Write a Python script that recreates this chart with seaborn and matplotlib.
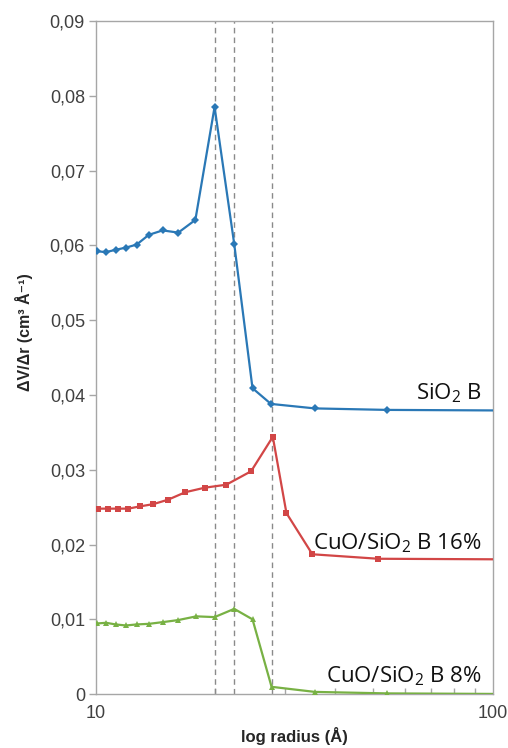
import numpy as np
import pandas as pd
import matplotlib
matplotlib.use("Agg")
import matplotlib.pyplot as plt
import matplotlib.ticker as mticker
import seaborn as sns

# ---- data ----
radius_a = [10.08, 10.6, 11.2, 11.9, 12.66, 13.58, 14.72, 16.12, 17.8, 19.9, 22.3, 24.8, 27.6, 35.6, 54.1, 130.0]
sio2_b = [0.0592, 0.0591, 0.0594, 0.0597, 0.0601, 0.0614, 0.0620, 0.0617, 0.0634, 0.0785, 0.0602, 0.0409, 0.0388, 0.0382, 0.0380, 0.0379]

radius_b = [10.13, 10.74, 11.34, 12.06, 12.9, 13.94, 15.2, 16.8, 18.8, 21.3, 24.6, 27.9, 30.2, 35.1, 51.4, 130.0]
cuo_16 = [0.0248, 0.0248, 0.0248, 0.0248, 0.0251, 0.0254, 0.0260, 0.0270, 0.0276, 0.0280, 0.0298, 0.0344, 0.0242, 0.0187, 0.0181, 0.0180]

radius_c = [10.08, 10.6, 11.2, 11.9, 12.66, 13.6, 14.74, 16.1, 17.9, 19.9, 22.3, 24.8, 27.7, 35.6, 54.1, 130.0]
cuo_8 = [0.00945, 0.00954, 0.00932, 0.00918, 0.00932, 0.0094, 0.00963, 0.0099, 0.0104, 0.0103, 0.0114, 0.0100, 0.00098, 0.0003, 0.0001, 0.0000]

series_names = ["SiO2 B", "CuO/SiO2 B 16%", "CuO/SiO2 B 8%"]
series_labels = ["SiO$_2$ B", "CuO/SiO$_2$ B 16%", "CuO/SiO$_2$ B 8%"]
label_values = [0.0394, 0.0194, 0.0016]
dashed_radii = [20.0, 22.3, 27.8]
y_ticks = [0, 0.01, 0.02, 0.03, 0.04, 0.05, 0.06, 0.07, 0.08, 0.09]
y_tick_labels = ["0", "0,01", "0,02", "0,03", "0,04", "0,05", "0,06", "0,07", "0,08", "0,09"]
x_ticks = [10, 100]
x_tick_labels = ["10", "100"]

df = pd.concat([
    pd.DataFrame({"radius": radius_a, "value": sio2_b, "series": series_names[0]}),
    pd.DataFrame({"radius": radius_b, "value": cuo_16, "series": series_names[1]}),
    pd.DataFrame({"radius": radius_c, "value": cuo_8, "series": series_names[2]}),
])

sns.set_style("white")
plt.rcParams["font.family"] = ["Liberation Sans", "DejaVu Sans"]
plt.rcParams["mathtext.fontset"] = "custom"
plt.rcParams["mathtext.rm"] = "Open Sans"
plt.rcParams["mathtext.it"] = "Open Sans:italic"
plt.rcParams["mathtext.bf"] = "Open Sans:bold"

colors = {series_names[0]: "#2A78B6", series_names[1]: "#D24646", series_names[2]: "#78B144"}
markers = {series_names[0]: "D", series_names[1]: "s", series_names[2]: "^"}
msizes = {series_names[0]: 4.5, series_names[1]: 5, series_names[2]: 5}

fig = plt.figure(figsize=(5.08, 7.48), dpi=100)
ax = fig.add_axes([0.189, 0.072, 0.781, 0.900])

for x in dashed_radii:
    ax.axvline(x, color="#8a8a8a", lw=1.0, ls=(0, (4, 3)), zorder=1)

for name in series_names:
    sub = df[df["series"] == name]
    sns.lineplot(data=sub, x="radius", y="value", ax=ax, color=colors[name],
                 marker=markers[name], markersize=msizes[name], markeredgewidth=0,
                 linewidth=1.6, estimator=None, sort=False, legend=False, zorder=3)

ax.set_xscale("log")
ax.set_xlim(10, 100)
ax.set_ylim(0, 0.09)
ax.set_yticks(y_ticks)
ax.set_yticklabels(y_tick_labels)
ax.xaxis.set_major_locator(mticker.FixedLocator(x_ticks))
ax.xaxis.set_major_formatter(mticker.FixedFormatter(x_tick_labels))
ax.xaxis.set_minor_locator(mticker.LogLocator(base=10, subs=np.arange(2, 10)))
ax.xaxis.set_minor_formatter(mticker.NullFormatter())

for s in ax.spines.values():
    s.set_color("#a6a6a6")
    s.set_linewidth(1.0)

ax.tick_params(axis="y", which="major", direction="out", length=5, width=1, color="#a6a6a6",
               labelsize=13, labelcolor="#404040", pad=3, left=True)
ax.tick_params(axis="x", which="major", direction="in", length=0, labelsize=13,
               labelcolor="#404040", pad=8, bottom=True)
ax.tick_params(axis="x", which="minor", direction="in", length=4, width=1, color="#a6a6a6", bottom=True)

ax.set_xlabel("log radius (Å)", fontsize=12, fontweight="bold")
ax.xaxis.set_label_coords(0.5, -0.049)
ax.set_ylabel("ΔV/Δr (cm³ Å⁻¹)", fontsize=11.5, fontweight="bold")
ax.yaxis.set_label_coords(-0.16, 0.538)

for lab, yv in zip(series_labels, label_values):
    ax.text(0.972, yv, lab, transform=ax.get_yaxis_transform(), ha="right", va="baseline",
            fontsize=16, color="#111111", family="Open Sans")

fig.savefig("out.png", dpi=100)
